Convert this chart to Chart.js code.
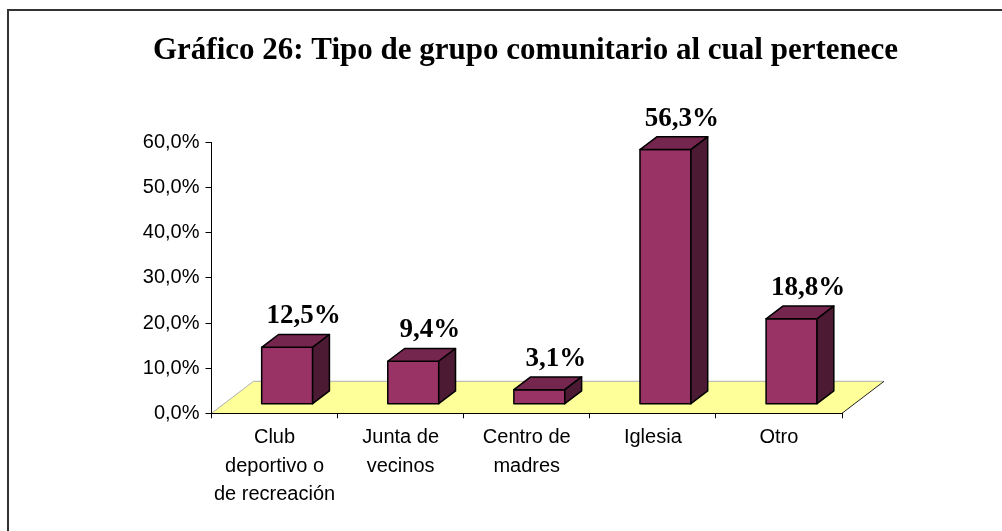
<!DOCTYPE html>
<html>
<head>
<meta charset="utf-8">
<script src="https://cdn.jsdelivr.net/npm/chart.js@4.4.1/dist/chart.umd.min.js"></script>
<style>
  html, body { margin: 0; padding: 0; background: #fff; }
  #wrap { width: 1002px; height: 531px; }
</style>
</head>
<body>
<div id="wrap"><canvas id="chart" width="1002" height="531"></canvas></div>
<script>
// data
const categories = [
  ['Club', 'deportivo o', 'de recreación'],
  ['Junta de', 'vecinos'],
  ['Centro de', 'madres'],
  'Iglesia',
  'Otro'
];
const values = [12.5, 9.4, 3.1, 56.3, 18.8];
const yTicks = [0, 10, 20, 30, 40, 50, 60];
const titleText = 'Gráfico 26: Tipo de grupo comunitario al cual pertenece';

const fmt = v => v.toFixed(1).replace('.', ',') + '%';

// floor / bar depth (3D look of the old excel chart)
const FLOOR_DX = 42, FLOOR_DY = -32;
const BAR_FRONT = 0.3, BAR_DEPTH = 0.4, BAR_WIDTH = 0.404;

const bar3d = {
  id: 'bar3d',
  beforeDraw(chart) {
    const { ctx, chartArea, scales } = chart;
    ctx.save();
    ctx.fillStyle = '#fff';
    ctx.fillRect(0, 0, chart.width, chart.height);
    // frame, only top and left are visible
    ctx.fillStyle = '#333';
    ctx.fillRect(7, 9, 2, chart.height - 9);
    ctx.fillRect(7, 9, chart.width - 7, 2);
    // title (centred a bit right of the canvas, like the original)
    ctx.fillStyle = '#000';
    ctx.font = 'bold 31px "Liberation Serif", "Times New Roman", serif';
    ctx.textAlign = 'center';
    ctx.textBaseline = 'alphabetic';
    ctx.fillText(titleText, 525.5, 59);
    // floor
    const x0 = chartArea.left, x1 = chartArea.right, y0 = scales.y.getPixelForValue(0);
    ctx.beginPath();
    ctx.moveTo(x0, y0);
    ctx.lineTo(x1, y0);
    ctx.lineTo(x1 + FLOOR_DX, y0 + FLOOR_DY);
    ctx.lineTo(x0 + FLOOR_DX, y0 + FLOOR_DY);
    ctx.closePath();
    ctx.fillStyle = '#ffff99';
    ctx.fill();
    ctx.lineWidth = 1;
    ctx.strokeStyle = '#b0b0b0';
    ctx.beginPath();
    ctx.moveTo(x0, y0);
    ctx.lineTo(x0 + FLOOR_DX, y0 + FLOOR_DY);
    ctx.lineTo(x1 + FLOOR_DX, y0 + FLOOR_DY);
    ctx.stroke();
    ctx.strokeStyle = '#222';
    ctx.beginPath();
    ctx.moveTo(x1, y0);
    ctx.lineTo(x1 + FLOOR_DX, y0 + FLOOR_DY);
    ctx.stroke();
    ctx.restore();
  },
  afterDatasetsDraw(chart) {
    const { ctx, scales } = chart;
    const xs = scales.x, ys = scales.y;
    const catW = xs.getPixelForValue(1) - xs.getPixelForValue(0);
    const w = catW * BAR_WIDTH;
    const fx = FLOOR_DX * BAR_FRONT, fy = FLOOR_DY * BAR_FRONT;
    const dx = FLOOR_DX * BAR_DEPTH, dy = FLOOR_DY * BAR_DEPTH;
    const base = ys.getPixelForValue(0);
    ctx.save();
    ctx.lineWidth = 1.5;
    ctx.strokeStyle = '#000';
    ctx.lineJoin = 'round';
    values.forEach((v, i) => {
      const cx = xs.getPixelForValue(i) + fx;
      const l = cx - w / 2, r = cx + w / 2;
      const b = base + fy;
      const t = ys.getPixelForValue(v) + fy;
      // front
      ctx.fillStyle = '#993366';
      ctx.beginPath();
      ctx.rect(l, t, w, b - t);
      ctx.fill(); ctx.stroke();
      // top
      ctx.fillStyle = '#74264f';
      ctx.beginPath();
      ctx.moveTo(l, t); ctx.lineTo(l + dx, t + dy); ctx.lineTo(r + dx, t + dy); ctx.lineTo(r, t);
      ctx.closePath(); ctx.fill(); ctx.stroke();
      // side
      ctx.fillStyle = '#4c1a33';
      ctx.beginPath();
      ctx.moveTo(r, t); ctx.lineTo(r + dx, t + dy); ctx.lineTo(r + dx, b + dy); ctx.lineTo(r, b);
      ctx.closePath(); ctx.fill(); ctx.stroke();
      // value label
      ctx.fillStyle = '#000';
      ctx.font = 'bold 27px "Liberation Serif", "Times New Roman", serif';
      ctx.textAlign = 'center';
      ctx.textBaseline = 'alphabetic';
      ctx.fillText(fmt(v), cx + 16.5, t - 24);
    });
    ctx.restore();
  }
};

new Chart(document.getElementById('chart'), {
  type: 'bar',
  data: {
    labels: categories,
    datasets: [{
      data: values,
      backgroundColor: 'rgba(0,0,0,0)',
      borderWidth: 0
    }]
  },
  options: {
    responsive: false,
    animation: false,
    events: [],
    layout: { padding: { left: 8, right: 160, top: 142.5, bottom: 0 } },
    plugins: {
      legend: { display: false },
      tooltip: { enabled: false },
      title: { display: false }
    },
    scales: {
      x: {
        afterFit(scale) { scale.height = 117.7; },
        grid: { drawOnChartArea: false, color: '#000', tickLength: 5, tickColor: '#000' },
        border: { color: '#000', width: 1 },
        ticks: {
          color: '#000',
          padding: 5,
          maxRotation: 0,
          autoSkip: false,
          font: { family: '"Liberation Sans", Arial, sans-serif', size: 20, lineHeight: 1.425 }
        }
      },
      y: {
        min: yTicks[0],
        max: yTicks[yTicks.length - 1],
        afterFit(scale) { scale.width = 203.5; },
        afterBuildTicks(scale) { scale.ticks = yTicks.map(v => ({ value: v })); },
        grid: { drawOnChartArea: false, color: '#000', tickLength: 6, tickColor: '#000' },
        border: { color: '#000', width: 1 },
        ticks: {
          color: '#000',
          padding: 6,
          font: { family: '"Liberation Sans", Arial, sans-serif', size: 20 },
          callback: v => fmt(v)
        }
      }
    }
  },
  plugins: [bar3d]
});
</script>
</body>
</html>
